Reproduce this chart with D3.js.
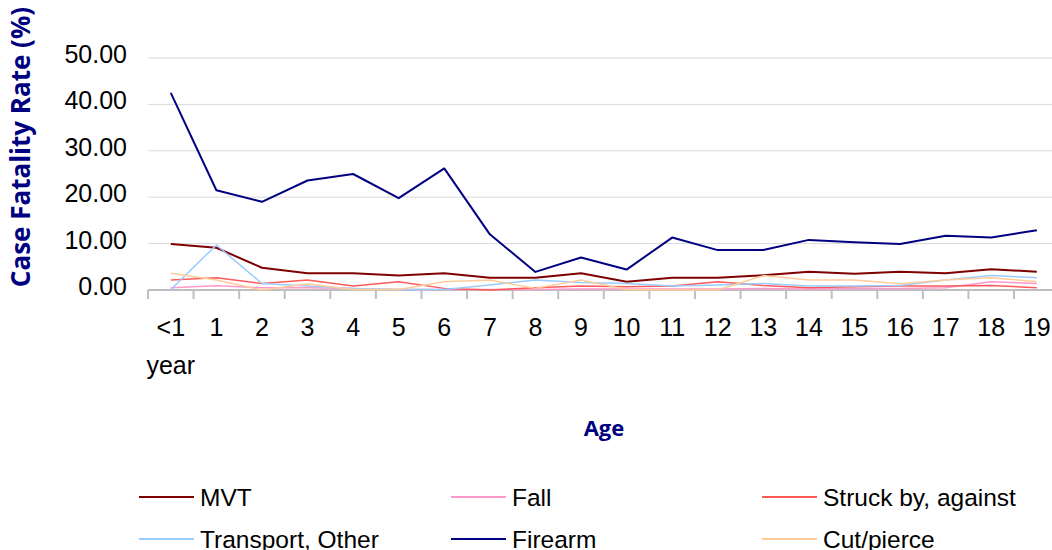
<!DOCTYPE html>
<html>
<head>
<meta charset="utf-8">
<script src="https://cdn.jsdelivr.net/npm/d3@7"></script>
<style>
  body { margin: 0; background: #fff; }
  svg { display: block; }
  text { font-family: "Liberation Sans", Arial, sans-serif; }
  .title { font-family: "Open Sans", "DejaVu Sans", sans-serif; font-weight: bold; }
</style>
</head>
<body>
<div id="chart"></div>
<script>
var ages = ["<1", "1", "2", "3", "4", "5", "6", "7", "8", "9", "10",
  "11", "12", "13", "14", "15", "16", "17", "18", "19"];

var mvt = [9.9, 9.1, 4.8, 3.6, 3.6, 3.1, 3.6, 2.65, 2.65, 3.6, 1.8,
  2.65, 2.65, 3.2, 3.95, 3.5, 3.95, 3.6, 4.45, 3.95];
var fall = [0.5, 0.9, 0.5, 0.5, 0.3, 0.1, 0.1, 0.1, 0.1, 0.2, 0.2,
  0.2, 0.2, 0.3, 0.2, 0.3, 0.3, 0.5, 1.8, 1.4];
var struck = [2.15, 2.65, 1.4, 2.15, 0.85, 1.8, 0.35, 0.0, 0.5, 0.85, 0.7,
  0.85, 1.8, 0.95, 0.5, 0.7, 0.85, 0.85, 0.95, 0.5];
var transport = [0.1, 9.7, 1.4, 0.85, 0.35, 0.1, 0.1, 1.1, 2.15, 1.6, 1.4,
  0.85, 1.1, 1.4, 0.85, 0.85, 0.95, 2.15, 3.1, 2.65];
var firearm = [42.5, 21.5, 19.0, 23.6, 25.0, 19.8, 26.2, 12.0, 3.9, 7.0, 4.4,
  11.3, 8.6, 8.6, 10.8, 10.3, 9.9, 11.7, 11.3, 12.9];
var cut = [3.6, 2.15, 0.0, 1.3, 0.1, 0.1, 1.8, 2.15, 0.35, 2.15, 0.1,
  0.0, 0.0, 3.1, 2.15, 2.15, 1.35, 2.15, 2.65, 1.8];

var yTicks = [0, 10, 20, 30, 40, 50];

var series = [
  { name: "MVT", values: mvt, color: "#800000", width: 2 },
  { name: "Fall", values: fall, color: "#ff99cc", width: 1.5 },
  { name: "Struck by, against", values: struck, color: "#ff5a5a", width: 1.5 },
  { name: "Transport, Other", values: transport, color: "#99ccff", width: 1.5 },
  { name: "Firearm", values: firearm, color: "#000080", width: 2 },
  { name: "Cut/pierce", values: cut, color: "#ffcc99", width: 1.5 }
];

var svgWidth = 1052;
var svgHeight = 550;

var svg = d3.select("#chart")
  .append("svg")
  .attr("width", svgWidth)
  .attr("height", svgHeight);

var x = d3.scaleBand()
  .domain(ages)
  .range([148, 148 + 20 * 45.58]);

var y = d3.scaleLinear()
  .domain([0, 50])
  .range([290, 58]);

// gridlines
svg.append("g")
  .selectAll("line")
  .data(yTicks.filter(d => d > 0))
  .enter()
  .append("line")
  .attr("x1", 148)
  .attr("x2", svgWidth)
  .attr("y1", d => y(d))
  .attr("y2", d => y(d))
  .attr("stroke", "#d9d9d9")
  .attr("stroke-width", 1);

// y tick labels
svg.append("g")
  .selectAll("text")
  .data(yTicks)
  .enter()
  .append("text")
  .attr("x", 127)
  .attr("y", d => y(d))
  .attr("dy", "0.2em")
  .attr("text-anchor", "end")
  .attr("font-size", "25px")
  .attr("fill", "#000")
  .text(d => d3.format(".2f")(d));

// x axis
var xAxis = svg.append("g")
  .attr("transform", "translate(0,290)");

xAxis.append("line")
  .attr("x1", 148)
  .attr("x2", svgWidth)
  .attr("stroke", "#bfbfbf")
  .attr("stroke-width", 2);

xAxis.selectAll(".tick")
  .data(ages)
  .enter()
  .append("line")
  .attr("x1", d => x(d))
  .attr("x2", d => x(d))
  .attr("y1", 0)
  .attr("y2", 9)
  .attr("stroke", "#bfbfbf")
  .attr("stroke-width", 2);

var xLabels = xAxis.selectAll(".lbl")
  .data(ages)
  .enter()
  .append("text")
  .attr("x", d => x(d) + x.bandwidth() / 2)
  .attr("y", 46)
  .attr("text-anchor", "middle")
  .attr("font-size", "25px")
  .attr("fill", "#000");

xLabels.append("tspan")
  .text(d => d);

xLabels.filter(d => d === "<1")
  .append("tspan")
  .attr("x", d => x(d) + x.bandwidth() / 2)
  .attr("dy", 38)
  .text("year");

// lines
var line = d3.line()
  .x((d, i) => x(ages[i]) + x.bandwidth() / 2)
  .y(d => y(d));

svg.append("g")
  .selectAll("path")
  .data(series)
  .enter()
  .append("path")
  .attr("d", d => line(d.values))
  .attr("fill", "none")
  .attr("stroke", d => d.color)
  .attr("stroke-width", d => d.width)
  .attr("stroke-linejoin", "round");

// axis titles
svg.append("text")
  .attr("class", "title")
  .attr("transform", "translate(30,147) rotate(-90)")
  .attr("text-anchor", "middle")
  .attr("font-size", "26px")
  .attr("fill", "#000080")
  .text("Case Fatality Rate (%)");

svg.append("text")
  .attr("class", "title")
  .attr("x", 604)
  .attr("y", 436)
  .attr("text-anchor", "middle")
  .attr("font-size", "22px")
  .attr("fill", "#000080")
  .text("Age");

// legend
var legendX = [139, 451, 762];
var legendY = [497, 539];

var legend = svg.append("g")
  .selectAll("g")
  .data(series)
  .enter()
  .append("g")
  .attr("transform", (d, i) => `translate(${legendX[i % 3]}, ${legendY[Math.floor(i / 3)]})`);

legend.append("line")
  .attr("x1", 0)
  .attr("x2", 55)
  .attr("stroke", d => d.color)
  .attr("stroke-width", 2);

legend.append("text")
  .attr("x", 61)
  .attr("dy", "0.36em")
  .attr("font-size", "24.5px")
  .attr("fill", "#000")
  .text(d => d.name);
</script>
</body>
</html>
